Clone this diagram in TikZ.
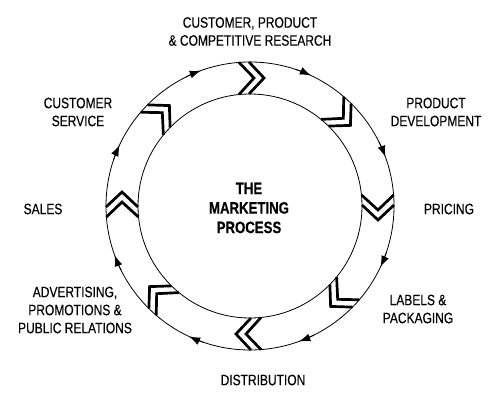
\documentclass[tikz,border=0pt]{standalone}
\usepackage{fontspec}
\setmainfont{Liberation Sans}[FakeStretch=0.8,FakeBold=0.3]
\usepackage{tikz}
\usetikzlibrary{arrows.meta}

\begin{document}
\begin{tikzpicture}[x=1pt,y=1pt,
    ring/.style={draw=black,line width=0.8pt},
    chev/.style={draw=black,line width=2.7pt,miter limit=10},
    flow/.style={line width=0.8pt,-{Latex[length=11pt,width=8pt]}},
    lbl/.style={align=center,font=\fontsize{15}{18}\selectfont,inner sep=0pt},
    hub/.style={align=center,font=\fontsize{16.5}{19.5}\selectfont\bfseries,inner sep=0pt}]
  \useasboundingbox (0,0) rectangle (492,401);
  \coordinate (C) at (250,195);

  % ring
  \draw[ring] (C) circle[radius=144];
  \draw[ring] (C) circle[radius=112];

  % double chevrons in the ring
  \foreach \a in {90,45,...,-225}{
    \begin{scope}[shift={(C)},rotate=\a-90]
      \draw[chev] (-11,143.6) -- (4,128) -- (-11,111.5);
      \draw[chev] (-1,144) -- (14,128) -- (-1,112);
    \end{scope}
  }

  % arrows on the outer circle
  \foreach \a in {67.5,22.5,...,-247.5}
    \draw[flow] ([shift={(\a+4:144)}]C) arc[start angle=\a+4,end angle=\a-2.5,radius=144];

  % labels
  \node[hub] (hub) at (249,193) {THE\\MARKETING\\PROCESS};
  \node[lbl] (research) at (250,369.5) {CUSTOMER, PRODUCT\\\& COMPETITIVE RESEARCH};
  \node[lbl] (develop) at (436,289) {PRODUCT\\DEVELOPMENT};
  \node[lbl] (pricing) at (449,192) {PRICING};
  \node[lbl] (labels) at (418,92) {LABELS \&\\PACKAGING};
  \node[lbl] (distrib) at (263,21) {DISTRIBUTION};
  \node[lbl] (advert) at (75,91) {ADVERTISING,\\PROMOTIONS \&\\PUBLIC RELATIONS};
  \node[lbl] (sales) at (43,192) {SALES};
  \node[lbl] (service) at (78,289) {CUSTOMER\\SERVICE};
\end{tikzpicture}
\end{document}
